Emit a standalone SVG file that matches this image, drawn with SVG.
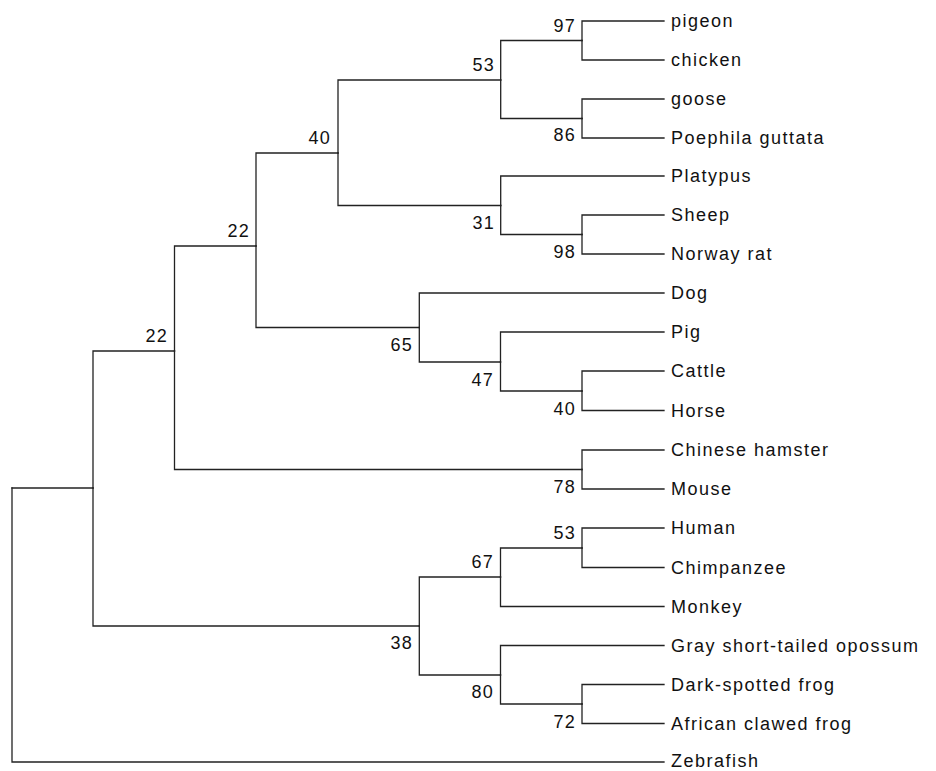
<svg xmlns="http://www.w3.org/2000/svg" width="936" height="771" viewBox="0 0 936 771">
<style>
.e{fill:none;stroke:#222;stroke-width:1.3;stroke-linecap:square}
.t{font-family:"Liberation Sans",Arial,sans-serif;font-size:18px;letter-spacing:1.5px;fill:#111}
.b{font-family:"Liberation Sans",Arial,sans-serif;font-size:18px;letter-spacing:1.2px;fill:#111;text-anchor:end}
</style>
<rect width="936" height="771" fill="#fff"/>
<g id="connectors">
<path class="e" d="M12 488V762H664"/>
<path class="e" d="M12 488H93"/>
<path class="e" d="M93 488V351H174.5"/>
<path class="e" d="M93 488V626H419.3"/>
<path class="e" d="M174.5 351V246H256"/>
<path class="e" d="M174.5 351V469.5H582"/>
<path class="e" d="M256 246V153H338"/>
<path class="e" d="M256 246V327.5H419.3"/>
<path class="e" d="M338 153V80H500.7"/>
<path class="e" d="M338 153V205.5H500.7"/>
<path class="e" d="M500.7 80V40.5H582"/>
<path class="e" d="M500.7 80V118.5H582"/>
<path class="e" d="M582 40.5V21H664"/>
<path class="e" d="M582 40.5V60H664"/>
<path class="e" d="M582 118.5V99H664"/>
<path class="e" d="M582 118.5V138H664"/>
<path class="e" d="M500.7 205.5V176H664"/>
<path class="e" d="M500.7 205.5V234.5H582"/>
<path class="e" d="M582 234.5V215H664"/>
<path class="e" d="M582 234.5V254H664"/>
<path class="e" d="M419.3 327.5V293H664"/>
<path class="e" d="M419.3 327.5V362H500.5"/>
<path class="e" d="M500.5 362V332H664"/>
<path class="e" d="M500.5 362V391H582"/>
<path class="e" d="M582 391V371H664"/>
<path class="e" d="M582 391V410.5H664"/>
<path class="e" d="M582 469.5V450H664"/>
<path class="e" d="M582 469.5V489H664"/>
<path class="e" d="M419.3 626V577H500.5"/>
<path class="e" d="M419.3 626V675H500.5"/>
<path class="e" d="M500.5 577V548H582"/>
<path class="e" d="M500.5 577V606.5H664"/>
<path class="e" d="M582 548V528H664"/>
<path class="e" d="M582 548V567.5H664"/>
<path class="e" d="M500.5 675V645.5H664"/>
<path class="e" d="M500.5 675V704H582"/>
<path class="e" d="M582 704V684.5H664"/>
<path class="e" d="M582 704V723.5H664"/>
</g>
<g id="n97"><text class="b" x="576" y="31.5">97</text></g>
<g id="n86"><text class="b" x="576" y="141">86</text></g>
<g id="n53"><text class="b" x="495" y="71">53</text></g>
<g id="n98"><text class="b" x="576" y="258">98</text></g>
<g id="n31"><text class="b" x="495" y="229">31</text></g>
<g id="n40a"><text class="b" x="331" y="144">40</text></g>
<g id="n40b"><text class="b" x="576" y="415">40</text></g>
<g id="n47"><text class="b" x="494" y="385.5">47</text></g>
<g id="n65"><text class="b" x="413" y="351">65</text></g>
<g id="n22a"><text class="b" x="250" y="237.3">22</text></g>
<g id="n78"><text class="b" x="576" y="493">78</text></g>
<g id="n22b"><text class="b" x="168" y="342.3">22</text></g>
<g id="n53b"><text class="b" x="576" y="539">53</text></g>
<g id="n67"><text class="b" x="494" y="568.3">67</text></g>
<g id="n72"><text class="b" x="576" y="728">72</text></g>
<g id="n80"><text class="b" x="494" y="698.3">80</text></g>
<g id="n38"><text class="b" x="413" y="649">38</text></g>
<g id="pigeon"><text class="t" x="671" y="27">pigeon</text></g>
<g id="chicken"><text class="t" x="671" y="66">chicken</text></g>
<g id="goose"><text class="t" x="671" y="105">goose</text></g>
<g id="poephila"><text class="t" x="671" y="144">Poephila guttata</text></g>
<g id="platypus"><text class="t" x="671" y="182">Platypus</text></g>
<g id="sheep"><text class="t" x="671" y="221">Sheep</text></g>
<g id="norway"><text class="t" x="671" y="260">Norway rat</text></g>
<g id="dog"><text class="t" x="671" y="299">Dog</text></g>
<g id="pig"><text class="t" x="671" y="338">Pig</text></g>
<g id="cattle"><text class="t" x="671" y="377">Cattle</text></g>
<g id="horse"><text class="t" x="671" y="416.5">Horse</text></g>
<g id="hamster"><text class="t" x="671" y="456">Chinese hamster</text></g>
<g id="mouse"><text class="t" x="671" y="495">Mouse</text></g>
<g id="human"><text class="t" x="671" y="534">Human</text></g>
<g id="chimp"><text class="t" x="671" y="573.5">Chimpanzee</text></g>
<g id="monkey"><text class="t" x="671" y="612.5">Monkey</text></g>
<g id="opossum"><text class="t" x="671" y="651.5">Gray short-tailed opossum</text></g>
<g id="darkfrog"><text class="t" x="671" y="690.5">Dark-spotted frog</text></g>
<g id="africanfrog"><text class="t" x="671" y="729.5">African clawed frog</text></g>
<g id="zebrafish"><text class="t" x="671" y="767">Zebrafish</text></g>
</svg>
